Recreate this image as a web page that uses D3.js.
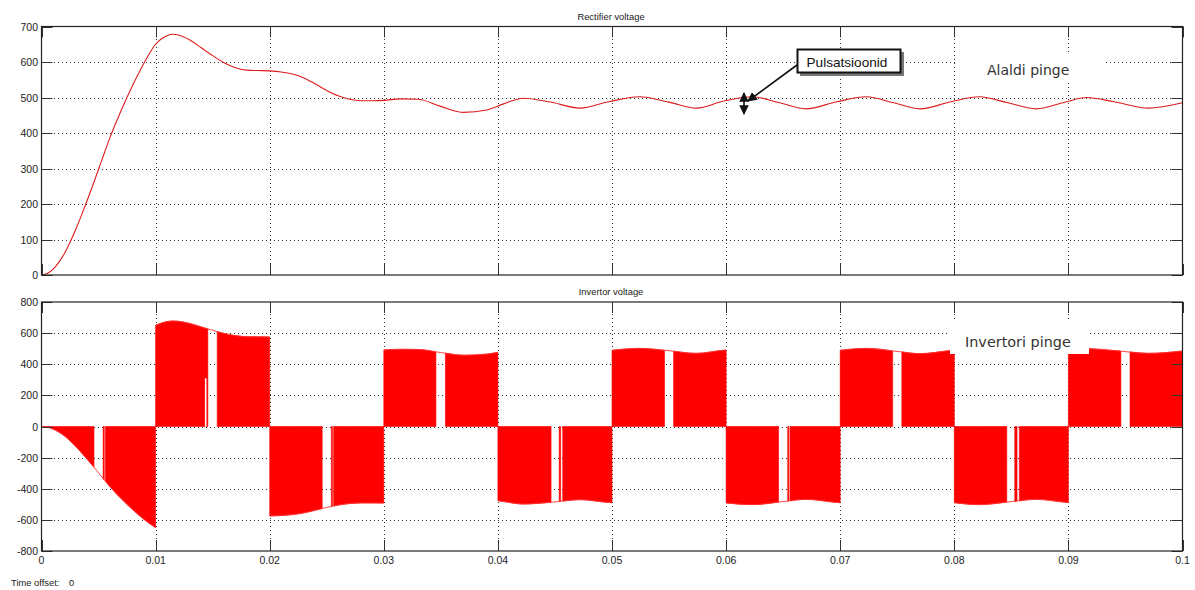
<!DOCTYPE html>
<html><head><meta charset="utf-8">
<script src="https://cdn.jsdelivr.net/npm/d3@7"></script>
<style>
body{margin:0;background:#fff;}
svg{display:block;font-family:"Liberation Sans",Arial,sans-serif;}
</style>
</head><body>
<svg id="c" width="1195" height="590"></svg>
<script>
// ---------------- data ----------------
const timeTicks = [0,0.01,0.02,0.03,0.04,0.05,0.06,0.07,0.08,0.09,0.1];
const timeTickLabels = ["0","0.01","0.02","0.03","0.04","0.05","0.06","0.07","0.08","0.09","0.1"];
const rectTicks = [0,100,200,300,400,500,600,700];
const rectTickLabels = ["0","100","200","300","400","500","600","700"];
const invTicks = [-800,-600,-400,-200,0,200,400,600,800];
const invTickLabels = ["-800","-600","-400","-200","0","200","400","600","800"];

// Rectifier (DC link) voltage
const rectT = [0,0.0005,0.001,0.0015,0.002,0.0025,0.003,0.0035,0.004,0.0046,0.005,0.0055,0.006,
  0.007,0.008,0.009,0.01,
  0.011,0.0115,0.012,0.013,0.014,0.015,0.016,0.017,0.018,0.019,0.02,0.021,0.022,0.023,0.024,0.025,
  0.026,0.027,0.028,0.029,0.03,0.0315,0.033,0.035,0.037,0.039,0.0405,0.0422,0.0445,0.0472,0.0497,
  0.0524,0.055,0.0574,0.0598,0.0623,0.0647,0.067,0.0697,0.0723,0.0747,0.077,0.0797,0.0822,0.0847,
  0.0872,0.0895,0.0916,0.094,0.097,0.1];
const rectV = [0,4,16,35,60,92,128,168,210,262,298,343,387,
  465,535,598,650,
  674,678,676,662,640,618,598,584,577,576,575,572,566,555,538,520,
  505,495,491,491,492,496,495,475,458,465,482,498,488,470,488,
  502,487,470,490,502,485,468,488,502,485,468,488,502,485,
  468,485,500,488,470,485];

// Inverter output pulses: start time, end time, polarity
const pulseStart = [0,0.0054,0.0056, 0.01,0.0154, 0.02,0.0254,0.0256, 0.03,0.0354,
  0.04,0.04537,0.04568, 0.05,0.0554, 0.06,0.0654,0.0656, 0.07,0.0754,
  0.08,0.0853,0.0857, 0.09,0.0954];
const pulseEnd = [0.0046,0.0055,0.01, 0.01458,0.02, 0.0246,0.0255,0.03, 0.03457,0.04,
  0.04466,0.0455,0.05, 0.0546,0.06, 0.0646,0.0655,0.07, 0.0746,0.08,
  0.0846,0.0855,0.09, 0.0946,0.1];
const pulseSign = [-1,-1,-1, 1,1, -1,-1,-1, 1,1, -1,-1,-1, 1,1, -1,-1,-1, 1,1, -1,-1,-1, 1,1];

// half cycles (envelope)
const halfStart = [0,0.01,0.02,0.03,0.04,0.05,0.06,0.07,0.08,0.09];
const halfSign = [-1,1,-1,1,-1,1,-1,1,-1,1];

// white notch inside the first positive pulse
const notchT = [0.01432,0.01446];
const notchV = [0,310];

// ---------------- drawing ----------------
const svg = d3.select("#c");
const x = d3.scaleLinear().domain([0,0.1]).range([41.5,1182.5]);
const yTop = d3.scaleLinear().domain([0,700]).range([275,26.5]);
const yBot = d3.scaleLinear().domain([-800,800]).range([551,302]);

const rect = rectT.map((t,i)=>({t, v:rectV[i]}));
const Vat = t => {
  const i = d3.bisectLeft(rectT, t);
  if (i <= 0) return rectV[0];
  if (i >= rectT.length) return rectV[rectV.length-1];
  const t0 = rectT[i-1], t1 = rectT[i];
  return rectV[i-1] + (rectV[i]-rectV[i-1])*(t-t0)/(t1-t0);
};
const seg = (a,b) => {
  const pts = [{t:a, v:Vat(a)}];
  rectT.forEach((t,i)=>{ if (t>a && t<b) pts.push({t, v:rectV[i]}); });
  pts.push({t:b, v:Vat(b)});
  return pts;
};

function panel(y, ticks, title, titleY) {
  const [x0,x1] = x.range();
  const [yb,yt] = y.range();
  const g = svg.append("g");
  timeTicks.slice(1,-1).forEach(t=>{
    g.append("line").attr("x1",Math.round(x(t))+0.5).attr("x2",Math.round(x(t))+0.5)
      .attr("y1",yt).attr("y2",yb).attr("stroke","#333").attr("stroke-dasharray","1,3")
      .attr("shape-rendering","crispEdges");
  });
  ticks.slice(1,-1).forEach(v=>{
    g.append("line").attr("y1",Math.round(y(v))+0.5).attr("y2",Math.round(y(v))+0.5)
      .attr("x1",x0).attr("x2",x1).attr("stroke","#333").attr("stroke-dasharray","1,3")
      .attr("shape-rendering","crispEdges");
  });
  svg.append("text").attr("x",611).attr("y",titleY).attr("text-anchor","middle")
    .attr("font-size","9.4px").attr("fill","#222").text(title);
  return g;
}
function frame(y, ticks, labels, showX) {
  const [x0,x1] = x.range();
  const [yb,yt] = y.range();
  const g = svg.append("g");
  const tl = 11;
  timeTicks.forEach(t=>{
    const xx = Math.round(x(t))+0.5;
    g.append("line").attr("x1",xx).attr("x2",xx).attr("y1",yt).attr("y2",yt+tl).attr("stroke","#333");
    g.append("line").attr("x1",xx).attr("x2",xx).attr("y1",yb).attr("y2",yb-tl).attr("stroke","#333");
  });
  ticks.forEach((v,i)=>{
    const yy = Math.round(y(v))+0.5;
    g.append("line").attr("y1",yy).attr("y2",yy).attr("x1",x0).attr("x2",x0+tl).attr("stroke","#333");
    g.append("line").attr("y1",yy).attr("y2",yy).attr("x1",x1).attr("x2",x1-tl).attr("stroke","#333");
    g.append("text").attr("x",38).attr("y",yy).attr("dy","0.35em").attr("text-anchor","end")
      .attr("font-size","10.5px").attr("fill","#222").text(labels[i]);
  });
  g.append("rect").attr("x",x0).attr("y",yt).attr("width",x1-x0).attr("height",yb-yt)
    .attr("fill","none").attr("stroke","#222").attr("stroke-width",1.2);
  if (showX) {
    timeTicks.forEach((t,i)=>{
      g.append("text").attr("x",x(t)).attr("y",yb+12.5).attr("text-anchor","middle")
        .attr("font-size","10.5px").attr("fill","#222").text(timeTickLabels[i]);
    });
  }
}

// ---- top panel ----
panel(yTop, rectTicks, "Rectifier voltage", 20);
svg.append("path").datum(rect)
  .attr("d", d3.line().x(d=>x(d.t)).y(d=>yTop(d.v)).curve(d3.curveMonotoneX))
  .attr("fill","none").attr("stroke","#dd1c1c").attr("stroke-width",1.1);

svg.append("rect").attr("x",957).attr("y",53).attr("width",146).attr("height",30).attr("fill","#fff");
svg.append("text").attr("x",987).attr("y",75).attr("font-family","'DejaVu Sans',Verdana,sans-serif")
  .attr("font-size","14px").attr("fill","#333").text("Alaldi pinge");

svg.append("rect").attr("x",800).attr("y",52).attr("width",104).attr("height",24).attr("fill","#777");
svg.append("rect").attr("x",797.5).attr("y",49.5).attr("width",103).attr("height",23)
  .attr("fill","#fff").attr("stroke","#111").attr("stroke-width",2);
svg.append("text").attr("x",806.5).attr("y",66.5).attr("font-size","13.6px").attr("fill","#111").text("Pulsatsioonid");

const defs = svg.append("defs");
defs.append("marker").attr("id","ah").attr("viewBox","0 0 10 10").attr("refX",9).attr("refY",5)
  .attr("markerWidth",6).attr("markerHeight",6).attr("orient","auto-start-reverse")
  .append("path").attr("d","M0,0 L10,5 L0,10 z").attr("fill","#111");
svg.append("line").attr("x1",797).attr("y1",65).attr("x2",748).attr("y2",101)
  .attr("stroke","#111").attr("stroke-width",1.6).attr("marker-end","url(#ah)");
svg.append("line").attr("x1",744).attr("y1",93).attr("x2",744).attr("y2",114)
  .attr("stroke","#111").attr("stroke-width",1.6)
  .attr("marker-end","url(#ah)").attr("marker-start","url(#ah)");

frame(yTop, rectTicks, rectTickLabels, false);

// ---- bottom panel ----
panel(yBot, invTicks, "Invertor voltage", 295);
const area = d3.area().x(d=>x(d.t)).y0(yBot(0)).curve(d3.curveMonotoneX);
pulseStart.forEach((a,i)=>{
  const b = pulseEnd[i], s = pulseSign[i];
  svg.append("path").datum(seg(a,b))
    .attr("d", area.y1(d=>yBot(s*d.v)))
    .attr("fill","#ff0000").attr("stroke","#ff0000").attr("stroke-width",0.6);
});
halfStart.forEach((a,i)=>{
  const s = halfSign[i];
  svg.append("path").datum(seg(a, a+0.01))
    .attr("d", d3.line().x(d=>x(d.t)).y(d=>yBot(s*d.v)).curve(d3.curveMonotoneX))
    .attr("fill","none").attr("stroke","#ff3030").attr("stroke-width",0.9);
});
svg.append("rect").attr("x",x(notchT[0])).attr("width",x(notchT[1])-x(notchT[0]))
  .attr("y",yBot(notchV[1])).attr("height",yBot(notchV[0])-yBot(notchV[1])).attr("fill","#fff");

svg.append("rect").attr("x",950).attr("y",321).attr("width",139).attr("height",33).attr("fill","#fff");
svg.append("text").attr("x",965).attr("y",346.5).attr("font-family","'DejaVu Sans',Verdana,sans-serif")
  .attr("font-size","14.4px").attr("fill","#333").text("Invertori pinge");

frame(yBot, invTicks, invTickLabels, true);

svg.append("text").attr("x",11).attr("y",586).attr("font-size","9.4px").attr("fill","#222")
  .text("Time offset:");
svg.append("text").attr("x",69).attr("y",586).attr("font-size","9.4px").attr("fill","#222").text("0");
</script>
</body></html>
